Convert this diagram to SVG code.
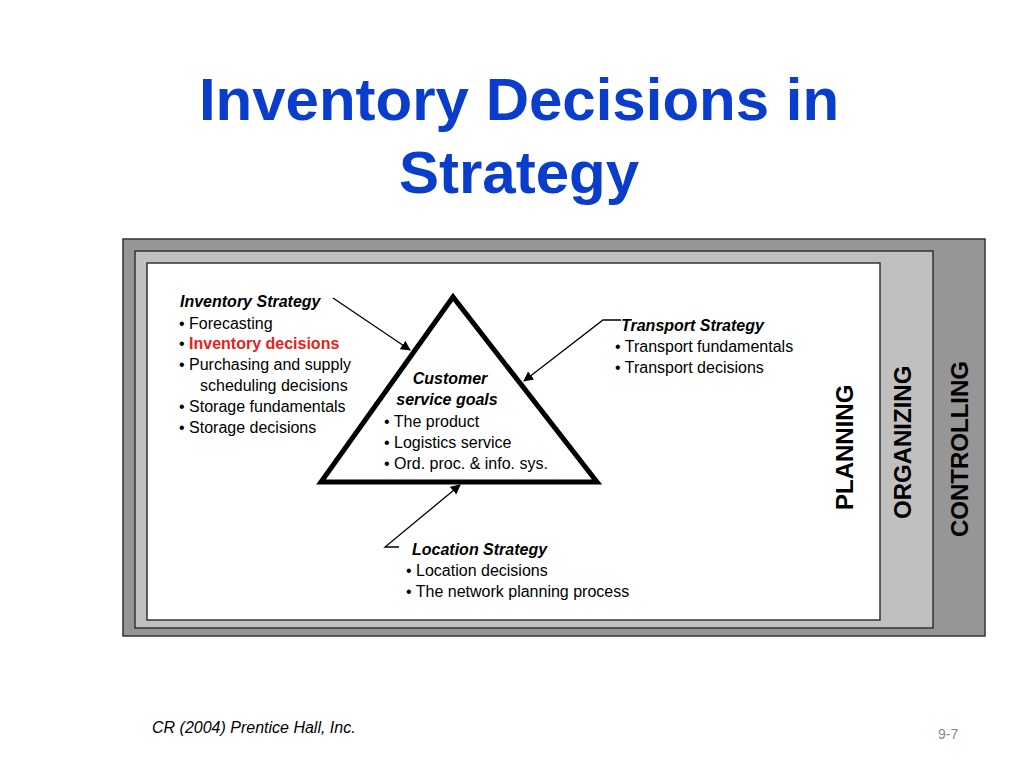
<svg xmlns="http://www.w3.org/2000/svg" width="1024" height="768" viewBox="0 0 1024 768">
<style>
text{font-family:"Liberation Sans",Arial,sans-serif;fill:#000}
.t{font-size:16px}
.h{font-size:16px;font-weight:bold;font-style:italic}
.v{font-size:24px;font-weight:bold}
.c{fill:none;stroke:#000;stroke-width:1.3}
</style>
<defs><marker id="a" viewBox="0 0 10 10" refX="9" refY="5" markerWidth="10" markerHeight="10" markerUnits="userSpaceOnUse" orient="auto"><path d="M0,0L10,5L0,10z" fill="#000"/></marker></defs>
<rect width="1024" height="768" fill="#fff"/>
<text x="519" y="120" text-anchor="middle" style="font-size:60px;font-weight:bold;fill:#0a3dcc">Inventory Decisions in</text>
<text x="519" y="193" text-anchor="middle" style="font-size:60px;font-weight:bold;fill:#0a3dcc">Strategy</text>
<g id="controlling"><rect x="123" y="239" width="862" height="397" fill="#969696" stroke="#333" stroke-width="1.5"/>
<text class="v" transform="translate(968,537) rotate(-90)">CONTROLLING</text></g>
<g id="organizing"><rect x="135" y="251" width="798" height="377" fill="#c0c0c0" stroke="#333" stroke-width="1.5"/>
<text class="v" transform="translate(911,519) rotate(-90)">ORGANIZING</text></g>
<g id="planning"><rect x="147" y="263" width="733" height="357" fill="#fff" stroke="#333" stroke-width="1.5"/>
<text class="v" transform="translate(853,510) rotate(-90)">PLANNING</text></g>
<g id="customer"><polygon points="453,297 321,482 597,482" fill="none" stroke="#000" stroke-width="5" stroke-linejoin="miter"/>
<text class="h" x="450" y="384" text-anchor="middle">Customer</text>
<text class="h" x="447" y="405" text-anchor="middle">service goals</text>
<text class="t" x="384" y="427">• The product</text>
<text class="t" x="384" y="448">• Logistics service</text>
<text class="t" x="384" y="469">• Ord. proc. &amp; info. sys.</text></g>
<g id="inventory"><text class="h" x="180" y="307">Inventory Strategy</text>
<text class="t" x="179" y="329">• Forecasting</text>
<text class="t" x="179" y="349">• <tspan style="fill:#e82020;font-weight:bold">Inventory decisions</tspan></text>
<text class="t" x="179" y="370">• Purchasing and supply</text>
<text class="t" x="200" y="391">scheduling decisions</text>
<text class="t" x="179" y="412">• Storage fundamentals</text>
<text class="t" x="179" y="433">• Storage decisions</text></g>
<g id="transport"><text class="h" x="621" y="331">Transport Strategy</text>
<text class="t" x="615" y="352">• Transport fundamentals</text>
<text class="t" x="615" y="373">• Transport decisions</text></g>
<g id="location"><text class="h" x="412" y="555">Location Strategy</text>
<text class="t" x="406" y="576">• Location decisions</text>
<text class="t" x="406" y="597">• The network planning process</text></g>
<g id="connectors">
<polyline class="c" points="333,298 410,350" marker-end="url(#a)"/>
<polyline class="c" points="621,320 603,320 524,381" marker-end="url(#a)"/>
<polyline class="c" points="399,547 385,547 460,485" marker-end="url(#a)"/>
</g>
<text x="152" y="733" style="font-size:16px;font-style:italic">CR (2004) Prentice Hall, Inc.</text>
<text x="938" y="739" style="font-size:14px;fill:#888">9-7</text>
</svg>
